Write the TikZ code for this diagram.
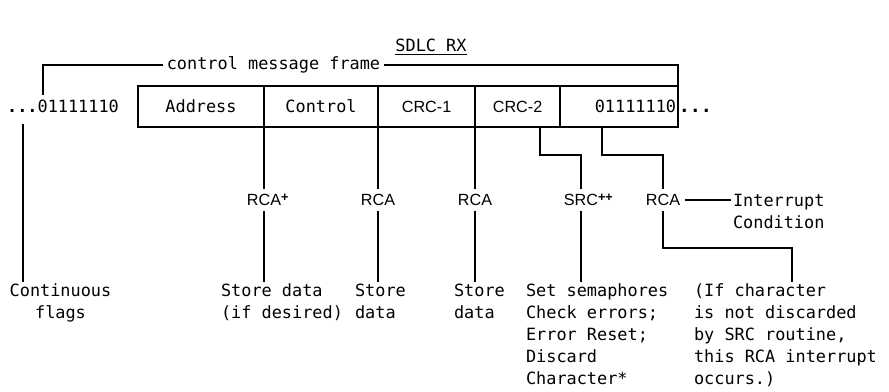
\documentclass[tikz,border=0pt]{standalone}
\usepackage{fontspec}
\setmonofont{DejaVu Sans Mono}
\newfontfamily\lblfont{Liberation Sans}
\usetikzlibrary{positioning}

\newcommand{\supmark}[1]{\rlap{\raisebox{0.55ex}{\fontsize{9}{9}\selectfont\bfseries #1}}}

\begin{document}
\begin{tikzpicture}[
  x=0.025cm, y=-0.025cm,
  font=\ttfamily\fontsize{12}{15.6}\selectfont,
  line width=0.9pt,
  cell/.style ={draw, minimum height=1.025cm, inner sep=0pt, outer sep=0pt},
  lbl/.style  ={font=\lblfont\fontsize{11.5}{13}\selectfont},
  tag/.style  ={lbl, inner sep=3pt},
  note/.style ={align=left, anchor=north west, inner sep=1pt},
  bigdots/.style={font=\ttfamily\bfseries\fontsize{13}{13}\selectfont},
]
\useasboundingbox (0,0) rectangle (889,392);

% ============ Title ============
\node (title) at (431,47) {\underline{SDLC RX}};

% ============ Frame ============
\node (flagL) at (63,106) {{\bfseries...}01111110};
\node[cell, minimum width=3.15cm] (addr) at (201,106.5) {Address};
\node[cell, minimum width=2.85cm, right=0pt of addr] (ctrl) {Control};
\node[cell, lbl, minimum width=2.425cm, right=0pt of ctrl] (crca) {CRC-1};
\node[cell, lbl, minimum width=2.125cm, right=0pt of crca] (crcb) {CRC-2};
\node[cell, minimum width=2.95cm, right=0pt of crcb] (endf) {};
\node[anchor=east, inner xsep=1pt] (endbits) at (endf.east) {01111110};
\node[base right=0pt of endbits, inner sep=0pt, bigdots] (dotsR) {...};

% control message frame bracket
\node[inner sep=2pt] (msg) at (273.5,65) {control message frame};
\coordinate (brkTap) at (43,95);
\draw (brkTap) |- (msg.west);
\draw (msg.east) -| (endf.north east);

% ============ Routines ============
\node[tag] (rcaA) at (264,200) {RCA\supmark{+}};
\node[tag] (rcaB) at (378,200) {RCA};
\node[tag] (rcaC) at (475,200) {RCA};
\node[tag] (src)  at (581,200) {SRC\supmark{++}};
\node[tag] (rcaD) at (663,200) {RCA};
\node[anchor=west, align=left, inner sep=1pt] (intr) at (731,211.5) {Interrupt\\Condition};

% ============ Actions ============
\node[note, align=center, anchor=north] (cont) at (60.5,282) {Continuous\\flags};
\node[note] (stA)  at (219,282) {Store data\\(if desired)};
\node[note] (stB)  at (353,282) {Store\\data};
\node[note] (stC)  at (452,282) {Store\\data};
\node[note] (sema) at (524,282) {Set semaphores\\Check errors;\\Error Reset;\\Discard\\Character*};
\node[note] (ifch) at (692,282) {(If character\\is not discarded\\by SRC routine,\\this RCA interrupt\\occurs.)};

% ============ Connectors ============
\coordinate (flagTap) at (23,124);
\draw (flagTap) -- (flagTap |- cont.north);

\draw (addr.south east) -- (addr.south east |- rcaA.north);
\draw (ctrl.south east) -- (ctrl.south east |- rcaB.north);
\draw (crca.south east) -- (crca.south east |- rcaC.north);
\draw (crcb.south east) ++(-20,0) -- ++(0,28) -| (src.north);
\draw (endf.south west) ++(42,0) -- ++(0,28) -| (rcaD.north);

\foreach \a/\b in {rcaA/stA, rcaB/stB, rcaC/stC, src/sema} {
  \draw (\a.south) -- (\a.south |- \b.north);
}

\coordinate (ifTap) at (792,248);
\draw (rcaD.south) |- (ifTap) -- (ifTap |- ifch.north);
\draw (rcaD.east) -- (rcaD.east -| intr.west);

\end{tikzpicture}
\end{document}
